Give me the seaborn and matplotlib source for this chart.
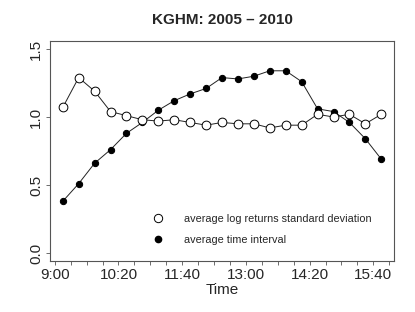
import matplotlib
matplotlib.use('Agg')
import matplotlib.pyplot as plt
from matplotlib.lines import Line2D
import pandas as pd
import seaborn as sns
import numpy as np

sns.set_style("white")
plt.rcParams['font.family'] = ['Liberation Sans', 'DejaVu Sans']

# data: 20-minute intervals, midpoints from 9:10 to 15:50 (minutes since midnight)
minutes = list(range(550, 951, 20))
std_dev = [1.07, 1.29, 1.19, 1.04, 1.01, 0.98, 0.97, 0.98, 0.96, 0.94, 0.96,
           0.95, 0.95, 0.92, 0.94, 0.94, 1.02, 1.00, 1.02, 0.95, 1.02]
time_interval = [0.38, 0.51, 0.66, 0.76, 0.88, 0.96, 1.05, 1.12, 1.17, 1.21, 1.29,
                 1.28, 1.30, 1.34, 1.34, 1.26, 1.06, 1.04, 0.96, 0.84, 0.69]
tick_labels = ['9:00', '10:20', '11:40', '13:00', '14:20', '15:40']
df = pd.DataFrame({'minute': minutes, 'std': std_dev, 'interval': time_interval})

fig = plt.figure(figsize=(4.15, 3.12), dpi=100)
ax = fig.add_axes([0.1205, 0.163, 0.829, 0.706])

sns.lineplot(data=df, x='minute', y='interval', ax=ax, color='#222222', linewidth=0.7,
             marker='o', markersize=4.5, markerfacecolor='black', markeredgecolor='black')
sns.lineplot(data=df, x='minute', y='std', ax=ax, color='#222222', linewidth=0.7,
             marker='o', markersize=6.3, markerfacecolor='white', markeredgecolor='black',
             markeredgewidth=0.7)

span = minutes[-1] - minutes[0]
ax.set_xlim(minutes[0] - 0.04 * span, minutes[-1] + 0.04 * span)
ax.set_ylim(-0.06, 1.56)

major = [540 + 80 * i for i in range(len(tick_labels))]
ax.set_xticks(major)
ax.set_xticklabels(tick_labels, fontsize=11)
ax.set_xticks(list(range(540, 961, 20)), minor=True)
ax.set_yticks([0.0, 0.5, 1.0, 1.5])
ax.set_yticklabels(['0.0', '0.5', '1.0', '1.5'], fontsize=11, rotation=90, va='center')
ax.tick_params(axis='both', which='both', direction='out', length=3, width=0.6,
               color='#555555', bottom=True, left=True, pad=2)

for s in ax.spines.values():
    s.set_color('#555555')
    s.set_linewidth(0.8)

ax.set_xlabel('Time', fontsize=11, labelpad=1)
ax.set_ylabel('')
ax.set_title('KGHM: 2005 \u2013 2010', fontsize=11, fontweight='bold', pad=12)
ax.grid(False)

handles = [Line2D([], [], linestyle='none', marker='o', markersize=6, markerfacecolor='white',
                  markeredgecolor='black', markeredgewidth=0.7),
           Line2D([], [], linestyle='none', marker='o', markersize=4.5, markerfacecolor='black',
                  markeredgecolor='black')]
ax.legend(handles, ['average log returns standard deviation', 'average time interval'],
          frameon=False, fontsize=7.8, loc='lower left', bbox_to_anchor=(0.255, 0.03),
          handletextpad=1.4, labelspacing=1.0)

plt.savefig('out.png', dpi=100)
plt.close()
